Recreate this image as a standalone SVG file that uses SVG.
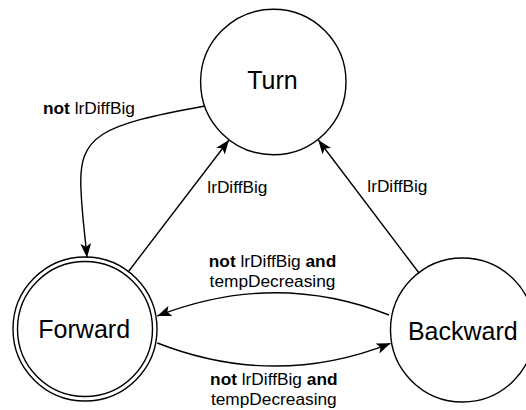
<svg xmlns="http://www.w3.org/2000/svg" width="526" height="410" viewBox="0 0 526 410">
<style>
.node{fill:#ffffff;stroke:#000000;stroke-width:1.4}
.name{font-family:"Liberation Sans",Arial,sans-serif;font-size:25px;fill:#000000;text-anchor:middle}
.edge{fill:none;stroke:#000000;stroke-width:1.4;marker-end:url(#arrow)}
.lbl{font-family:"Liberation Sans",Arial,sans-serif;font-size:17.3px;fill:#000000}
.mid{text-anchor:middle}
.b{font-weight:bold}
</style>
<defs>
<marker id="arrow" markerUnits="userSpaceOnUse" markerWidth="14" markerHeight="12" viewBox="0 0 13 10" refX="13" refY="5" orient="auto">
<path d="M0,0 L13,5 L0,10 L3,5 Z" fill="#000000"/>
</marker>
</defs>
<rect width="526" height="410" fill="#ffffff"/>
<g id="turn">
<circle class="node" cx="273.3" cy="82" r="72.7"/>
<text class="name" x="272.5" y="89.3">Turn</text>
</g>
<g id="forward">
<circle class="node" cx="85" cy="329" r="72"/>
<circle class="node" cx="85" cy="329" r="67.5"/>
<text class="name" x="84.2" y="338.3">Forward</text>
</g>
<g id="backward">
<circle class="node" cx="462.5" cy="330" r="72"/>
<text class="name" x="462.8" y="340">Backward</text>
</g>
<g id="connectors">
<path class="edge" d="M205,106 C100,125 78,135 81,190 C82,215 85,235 87,257.5"/>
<path class="edge" d="M128.3,271.7 L229,140"/>
<path class="edge" d="M419,273 L318.3,140"/>
<path class="edge" d="M389,315 Q275,270 157.3,316"/>
<path class="edge" d="M157.3,343 Q275,389 390.5,343.3"/>
<text class="lbl" x="43" y="114"><tspan class="b">not</tspan> lrDiffBig</text>
<text class="lbl" x="207.3" y="192.5">lrDiffBig</text>
<text class="lbl" x="367.3" y="192">lrDiffBig</text>
<text class="lbl mid" x="272.5" y="266.7"><tspan class="b">not</tspan> lrDiffBig <tspan class="b">and</tspan></text>
<text class="lbl mid" x="272.5" y="286.7">tempDecreasing</text>
<text class="lbl mid" x="273.8" y="385"><tspan class="b">not</tspan> lrDiffBig <tspan class="b">and</tspan></text>
<text class="lbl mid" x="273.8" y="405">tempDecreasing</text>
</g>
</svg>
